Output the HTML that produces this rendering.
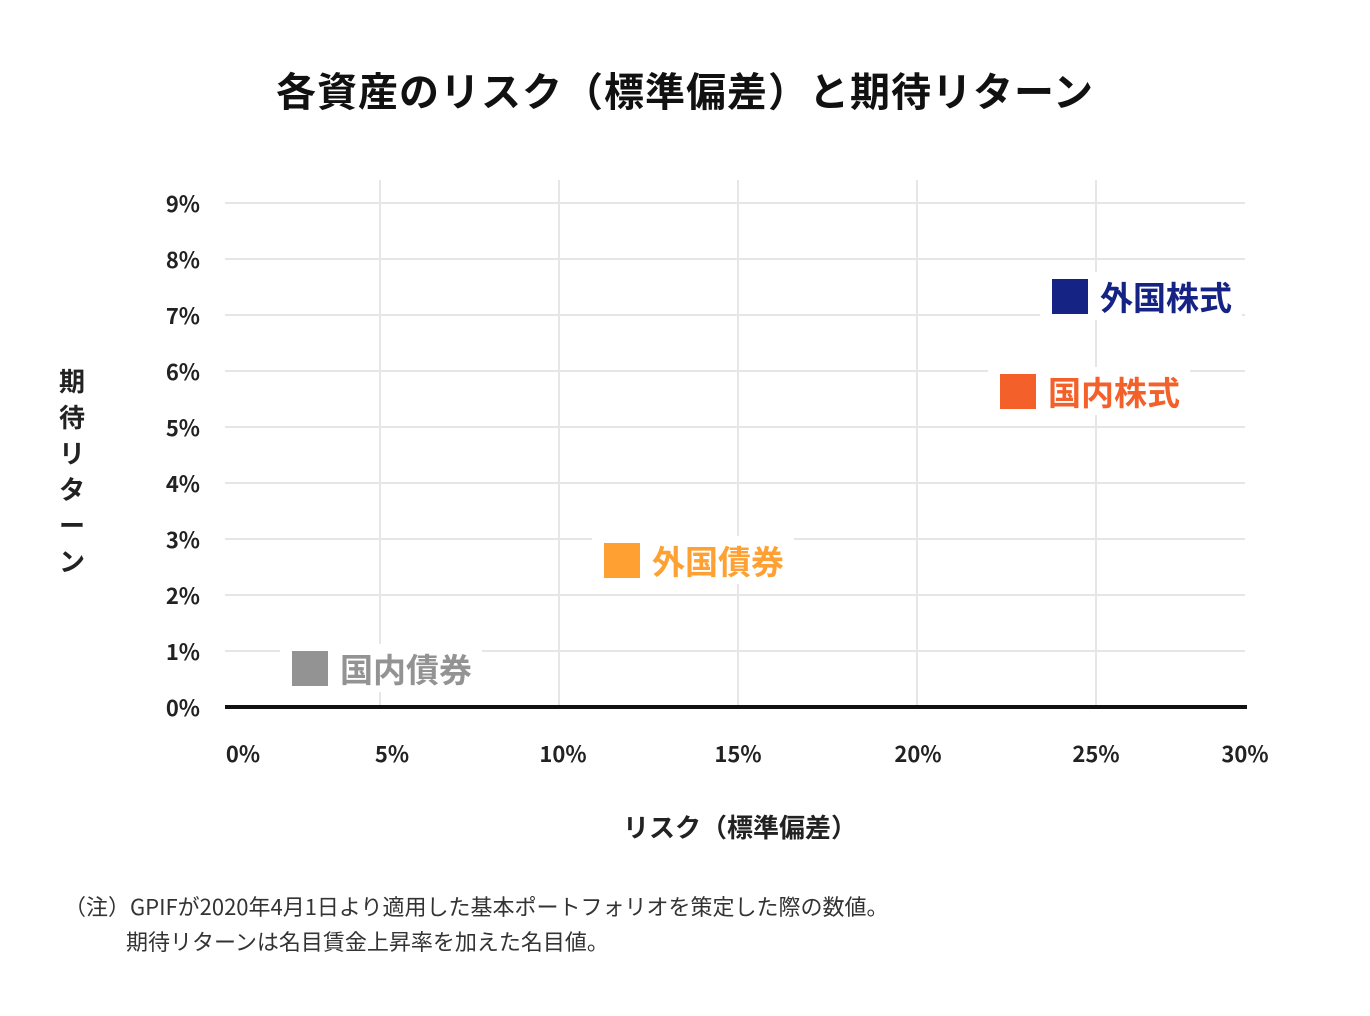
<!DOCTYPE html>
<html><head><meta charset="utf-8"><style>
body{margin:0;width:1370px;height:1016px;background:#fff;position:relative;overflow:hidden;font-family:"Liberation Sans","Noto Sans CJK JP",sans-serif;color:#222}
.a{position:absolute;white-space:nowrap}
.h{position:absolute;left:225px;width:1020px;height:2px;background:#e6e6e6}
.v{position:absolute;top:180px;height:527px;width:2px;background:#e6e6e6}
.yl{position:absolute;left:140px;width:60px;text-align:right;font-size:22px;font-weight:bold;line-height:24px;font-family:"Noto Sans CJK JP",sans-serif}
.xl{position:absolute;top:740px;font-size:22px;font-weight:bold;width:80px;text-align:center;line-height:26px;font-family:"Noto Sans CJK JP",sans-serif}
.sq{position:absolute;width:36px;height:35px}
.lb{position:absolute;font-size:33px;font-weight:bold;background:#fff;padding:4px 10px;line-height:40px;font-family:"Noto Sans CJK JP",sans-serif}
</style></head><body>
<div class="a" style="left:0;width:1370px;text-align:center;top:60px;font-size:40px;font-weight:bold;font-family:'Noto Sans CJK JP',sans-serif;color:#111;letter-spacing:1px">各資産のリスク（標準偏差）と期待リターン</div>

<div class="h" style="top:202px"></div><div class="h" style="top:258px"></div><div class="h" style="top:314px"></div><div class="h" style="top:370px"></div><div class="h" style="top:426px"></div><div class="h" style="top:482px"></div><div class="h" style="top:538px"></div><div class="h" style="top:594px"></div><div class="h" style="top:650px"></div>
<div class="v" style="left:379px"></div><div class="v" style="left:558px"></div><div class="v" style="left:737px"></div><div class="v" style="left:916px"></div><div class="v" style="left:1095px"></div>
<div class="a" style="left:225px;top:705px;width:1022px;height:4px;background:#111"></div>

<div class="yl" style="top:191px">9%</div><div class="yl" style="top:247px">8%</div><div class="yl" style="top:303px">7%</div><div class="yl" style="top:359px">6%</div><div class="yl" style="top:415px">5%</div><div class="yl" style="top:471px">4%</div><div class="yl" style="top:527px">3%</div><div class="yl" style="top:583px">2%</div><div class="yl" style="top:639px">1%</div><div class="yl" style="top:695px">0%</div>

<div class="xl" style="left:203px">0%</div><div class="xl" style="left:352px">5%</div><div class="xl" style="left:523px">10%</div><div class="xl" style="left:698px">15%</div><div class="xl" style="left:878px">20%</div><div class="xl" style="left:1056px">25%</div><div class="xl" style="left:1205px">30%</div>

<div class="a" style="left:56px;top:363px;width:32px;font-size:26px;font-weight:bold;line-height:36px;white-space:normal;text-align:center;font-family:'Noto Sans CJK JP',sans-serif">期<br>待<br>リ<br>タ<br>ー<br>ン</div>
<div class="a" style="left:0;width:1480px;text-align:center;top:808px;font-size:26px;font-weight:bold;font-family:'Noto Sans CJK JP',sans-serif">リスク（標準偏差）</div>

<div class="lb" style="left:1040px;top:272px;padding-left:60px;color:#152385">外国株式</div>
<div class="sq" style="left:1052px;top:279px;background:#152385"></div>
<div class="lb" style="left:988px;top:367px;padding-left:60px;color:#f4602a">国内株式</div>
<div class="sq" style="left:1000px;top:374px;background:#f4602a"></div>
<div class="lb" style="left:592px;top:536px;padding-left:60px;color:#ffa033">外国債券</div>
<div class="sq" style="left:604px;top:543px;background:#ffa033"></div>
<div class="lb" style="left:280px;top:644px;padding-left:60px;color:#939393">国内債券</div>
<div class="sq" style="left:292px;top:651px;background:#939393"></div>

<div class="a" style="left:64px;top:889px;font-size:22px;line-height:35px;color:#333;font-family:'Noto Sans CJK JP',sans-serif">（注）GPIFが2020年4月1日より適用した基本ポートフォリオを策定した際の数値。<br><span style="padding-left:62px">期待リターンは名目賃金上昇率を加えた名目値。</span></div>
</body></html>
